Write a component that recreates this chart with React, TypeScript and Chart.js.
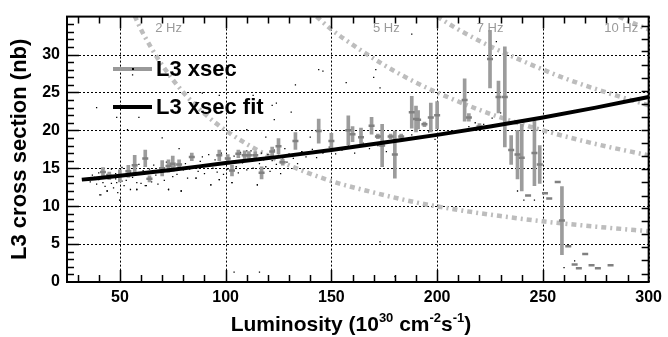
import React, { useEffect, useRef } from "react";
import { Chart, registerables } from "chart.js";
Chart.register(...registerables);

const X_MIN = 25;
const X_MAX = 300;
const Y_MIN = 0;
const Y_MAX = 35;

const xTickValues = [50, 100, 150, 200, 250, 300];
const yTickValues = [0, 5, 10, 15, 20, 25, 30];
const xMinorTicks = [30, 40, 50, 60, 70, 80, 90, 100, 110, 120, 130, 140, 150, 160, 170, 180, 190, 200, 210, 220, 230, 240, 250, 260, 270, 280, 290];
const yMinorTicks = [1, 2, 3, 4, 5, 6, 7, 8, 9, 10, 11, 12, 13, 14, 15, 16, 17, 18, 19, 20, 21, 22, 23, 24, 25, 26, 27, 28, 29, 30, 31, 32, 33, 34];
const rightTicks = [1.1, 2.9, 4.6, 6.3, 8.0, 9.7, 11.4, 13.2, 14.9, 16.6, 18.3, 20.0, 21.8, 23.5, 25.2, 26.9, 28.6, 30.4, 32.1, 33.8];

// L3 xsec fit
const fitL = [32, 50, 75, 100, 125, 150, 175, 200, 225, 250, 275, 300];
const fitS = [13.5, 14.0, 14.8, 15.7, 16.5, 17.4, 18.4, 19.4, 20.5, 21.7, 23.0, 24.4];

// L3 xsec (points with error bars)
const ebL = [42, 45, 50, 54, 57, 62, 64, 70, 73, 75, 78, 84, 97, 101, 103, 106, 109, 111, 114, 117, 122, 125, 127, 133, 144, 150, 158, 160, 164, 169, 172, 174, 178, 180, 183, 188, 190, 191, 194, 197, 200, 213, 215, 220, 225, 229, 232, 235, 238, 240, 243, 246, 248.5, 251, 253, 257, 259, 262, 265, 267, 270, 273, 276, 282];
const ebS = [14.5, 14.0, 14.0, 14.6, 15.4, 16.3, 13.6, 15.0, 15.3, 15.6, 15.5, 16.5, 16.7, 16.3, 14.7, 16.9, 16.7, 16.7, 16.7, 14.4, 17.2, 17.9, 15.8, 18.6, 19.9, 18.6, 20.0, 19.5, 19.1, 20.6, 19.2, 18.0, 19.2, 16.8, 19.2, 22.4, 21.5, 21.4, 20.8, 21.7, 22.0, 24.0, 21.7, 20.5, 29.4, 24.4, 24.4, 17.4, 16.8, 16.4, 11.4, 17.0, 15.5, 11.7, 11.0, 13.2, 8.1, 4.7, 2.3, 1.8, 3.7, 2.2, 1.8, 2.2];
const ebErr = [0.6, 0.5, 0.8, 0.8, 1.3, 1.1, 0.4, 1.0, 0.8, 1.0, 0.6, 0.5, 0.7, 0.5, 0.7, 0.5, 0.6, 0.5, 0.5, 0.8, 0.6, 1.0, 0.4, 1.1, 1.6, 1.0, 1.9, 1.0, 1.2, 1.1, 0.3, 2.8, 0.3, 3.1, 0.3, 2.1, 1.7, 1.2, 0.3, 1.9, 1.8, 2.8, 0.5, 0.4, 3.8, 2.1, 6.6, 1.9, 3.2, 4.4, 0, 4.3, 2.5, 0, 0, 0, 4.5, 0, 0, 0, 0, 0, 0, 0];

// individual measurements (small black dots)
const dots: [number, number][] = [
  [36, 13.2], [37, 14.1], [38, 13.8], [39, 12.9], [40, 14.4], [40, 13.5], [41, 11.5], [42, 14.8], [42, 13.1], [43, 12.6],
  [44, 14.2], [44, 12.0], [45, 13.7], [46, 14.9], [46, 13.0], [47, 12.4], [48, 14.3], [48, 13.6], [49, 11.8], [50, 14.6],
  [50, 10.8], [51, 13.3], [51, 15.1], [52, 12.7], [53, 14.0], [53, 13.4], [54, 15.3], [55, 12.2], [55, 14.4], [56, 13.8],
  [57, 14.9], [58, 12.2], [58, 13.1], [59, 15.5], [60, 14.2], [60, 13.0], [61, 14.7], [62, 12.7], [62, 15.8], [63, 13.6],
  [64, 14.9], [65, 13.2], [66, 15.4], [67, 14.1], [68, 12.9], [69, 15.0], [70, 14.4], [71, 13.4], [72, 15.8], [73, 12.2],
  [74, 14.7], [75, 13.9], [76, 15.3], [77, 14.2], [78, 16.0], [79, 12.0], [80, 14.8], [81, 15.6], [82, 13.7], [83, 14.9],
  [84, 16.2], [85, 15.1], [86, 13.7], [87, 14.6], [88, 15.9], [89, 16.5], [90, 14.3], [91, 15.4], [92, 16.8], [93, 12.8],
  [94, 15.0], [95, 16.1], [96, 14.5], [97, 13.5], [97, 15.7], [98, 17.0], [99, 14.2], [100, 16.3], [101, 14.9], [102, 15.8],
  [103, 13.1], [104, 16.6], [105, 15.2], [106, 14.4], [107, 17.1], [108, 15.7], [109, 16.2], [110, 14.8], [111, 15.9], [112, 17.3],
  [113, 15.0], [114, 16.4], [115, 12.8], [116, 15.6], [117, 17.0], [118, 16.1], [119, 15.2], [120, 16.8], [121, 14.6], [122, 16.0],
  [123, 17.4], [124, 15.5], [125, 16.7], [126, 14.3], [127, 16.2], [128, 17.6], [129, 15.8], [130, 16.9], [132, 16.3], [134, 15.6],
  [136, 17.2], [138, 16.5], [141, 17.5], [143, 16.4], [146, 17.0], [149, 17.8], [152, 16.9], [155, 17.4], [158, 18.1], [161, 17.0],
  [165, 18.3], [168, 17.6], [172, 18.0], [176, 17.2], [180, 18.6], [184, 18.9], [188, 19.4], [192, 19.1], [196, 19.8], [199, 18.8],
  [215, 20.5], [218, 21.0], [222, 20.8], [226, 21.6], [230, 22.3],
  [56, 27.3], [39, 23.0], [48.5, 21.7], [53.6, 20.1], [70, 19.0], [78, 17.6], [97, 24.6], [105, 25.0], [113, 24.6], [122, 23.3],
  [124, 23.6], [133, 26.0], [144, 28.0], [146, 27.8], [86, 23.7], [89, 24.9], [96, 22.3], [59, 21.7], [110, 20.1], [119, 19.1],
  [140, 19.1], [123, 21.4], [131, 22.4], [110, 17.3], [136, 17.2], [170, 27.0], [188, 32.7], [171, 28.0], [157, 26.3], [200, 29.5],
  [228, 31.7], [173, 25.6], [40.5, 11.5], [44, 12.0], [50, 10.8], [58, 12.2], [62.5, 12.7], [73, 12.2], [79, 12.0], [93, 12.8],
  [103, 13.1], [115, 12.8], [48.5, 13.1], [86, 13.7], [97, 13.5], [104, 1.3], [116, 1.3], [180, 0.7], [173, 5.3], [238, 12.0],
  [241, 10.8], [246, 10.8], [260, 1.9], [265, 2.8]
];

// constant-rate curves (sigma x L = const)
const hz2L = [57, 60, 65, 70, 80, 90, 100, 115, 130, 150, 170, 190, 210, 230, 250, 275, 300];
const hz2S = [35.1, 33.3, 30.8, 28.6, 25.0, 22.2, 20.0, 17.4, 15.4, 13.3, 11.8, 10.5, 9.5, 8.7, 8.0, 7.3, 6.7];
const hz5L = [143, 150, 160, 175, 190, 210, 230, 250, 275, 300];
const hz5S = [35.0, 33.3, 31.3, 28.6, 26.3, 23.8, 21.7, 20.0, 18.2, 16.7];
const hz7L = [200, 210, 225, 240, 260, 280, 300];
const hz7S = [35.0, 33.3, 31.1, 29.2, 26.9, 25.0, 23.3];
const hz10L = [286, 293, 300];
const hz10S = [35.0, 34.1, 33.3];

const hzLabels = ["2 Hz", "5 Hz", "7 Hz", "10 Hz"];
const hzLabelL = [73, 176, 225, 287];
const hzLabelS = 33.4;

const legendLabels = ["L3 xsec", "L3 xsec fit"];

const FONT = "'Liberation Sans', Arial, Helvetica, sans-serif";

const decorPlugin = {
  id: "decor",
  beforeDatasetsDraw(chart: any) {
    const { ctx, chartArea } = chart;
    const { left, right, top, bottom } = chartArea;
    const x = chart.scales.x;
    const y = chart.scales.y;
    ctx.save();
    ctx.strokeStyle = "#000";
    ctx.lineWidth = 1;
    ctx.setLineDash([2, 2]);
    ctx.beginPath();
    for (const v of xTickValues) {
      const px = Math.round(x.getPixelForValue(v)) + 0.5;
      ctx.moveTo(px, top);
      ctx.lineTo(px, bottom);
    }
    for (const v of yTickValues) {
      const py = Math.round(y.getPixelForValue(v)) + 0.5;
      ctx.moveTo(left, py);
      ctx.lineTo(right, py);
    }
    ctx.stroke();
    ctx.restore();
  },
  afterDraw(chart: any) {
    const { ctx, chartArea } = chart;
    const { left, right, top, bottom } = chartArea;
    const x = chart.scales.x;
    const y = chart.scales.y;
    ctx.save();
    // frame
    ctx.strokeStyle = "#000";
    ctx.lineWidth = 2;
    ctx.strokeRect(left, top, right - left, bottom - top);
    ctx.lineWidth = 1.5;
    ctx.beginPath();
    for (const v of xMinorTicks) {
      const px = Math.round(x.getPixelForValue(v)) + 0.5;
      const len = v % 50 === 0 ? 12 : 7;
      ctx.moveTo(px, bottom);
      ctx.lineTo(px, bottom - len);
      ctx.moveTo(px, top);
      ctx.lineTo(px, top + len);
    }
    for (const v of yMinorTicks) {
      const py = Math.round(y.getPixelForValue(v)) + 0.5;
      const len = v % 5 === 0 ? 12 : 7;
      ctx.moveTo(left, py);
      ctx.lineTo(left + len, py);
    }
    for (const v of rightTicks) {
      const py = Math.round(y.getPixelForValue(v)) + 0.5;
      ctx.moveTo(right, py);
      ctx.lineTo(right - 7, py);
    }
    ctx.stroke();

    // Hz labels
    ctx.fillStyle = "#9a9a9a";
    ctx.font = `13px ${FONT}`;
    ctx.textAlign = "center";
    ctx.textBaseline = "middle";
    hzLabels.forEach((t, i) => {
      ctx.fillText(t, x.getPixelForValue(hzLabelL[i]), y.getPixelForValue(hzLabelS));
    });

    // legend
    ctx.lineCap = "butt";
    ctx.strokeStyle = "#999";
    ctx.lineWidth = 4;
    ctx.beginPath();
    ctx.moveTo(113, 69);
    ctx.lineTo(152, 69);
    ctx.stroke();
    ctx.fillStyle = "#000";
    ctx.fillRect(132, 68, 2, 2);
    ctx.strokeStyle = "#000";
    ctx.beginPath();
    ctx.moveTo(113, 107);
    ctx.lineTo(152, 107);
    ctx.stroke();
    ctx.font = `bold 22px ${FONT}`;
    ctx.textAlign = "left";
    ctx.textBaseline = "middle";
    ctx.fillText(legendLabels[0], 156, 70);
    ctx.fillText(legendLabels[1], 156, 108);

    // x axis title with superscripts
    const parts: [string, boolean][] = [
      ["Luminosity (10", false],
      ["30", true],
      [" cm", false],
      ["-2", true],
      ["s", false],
      ["-1", true],
      [")", false],
    ];
    const big = `bold 21px ${FONT}`;
    const small = `bold 13px ${FONT}`;
    let total = 0;
    for (const [t, sup] of parts) {
      ctx.font = sup ? small : big;
      total += ctx.measureText(t).width;
    }
    let cx = 351 - total / 2;
    const base = 331;
    ctx.textAlign = "left";
    ctx.textBaseline = "alphabetic";
    for (const [t, sup] of parts) {
      ctx.font = sup ? small : big;
      ctx.fillText(t, cx, sup ? base - 9 : base);
      cx += ctx.measureText(t).width;
    }
    ctx.restore();
  },
};

export default function App() {
  const ref = useRef<HTMLCanvasElement | null>(null);
  useEffect(() => {
    document.body.style.margin = "0";
    const canvas = ref.current;
    if (!canvas) return;
    const hzStyle = {
      type: "line" as const,
      borderColor: "#bdbdbd",
      borderWidth: 4.5,
      borderDash: [5, 4, 2, 4],
      pointRadius: 0,
      fill: false,
      cubicInterpolationMode: "monotone" as const,
      order: 5,
    };
    const chart = new Chart(canvas, {
      type: "scatter",
      data: {
        datasets: [
          { ...hzStyle, label: "2 Hz", data: hz2L.map((l, i) => ({ x: l, y: hz2S[i] })) },
          { ...hzStyle, label: "5 Hz", data: hz5L.map((l, i) => ({ x: l, y: hz5S[i] })) },
          { ...hzStyle, label: "7 Hz", data: hz7L.map((l, i) => ({ x: l, y: hz7S[i] })) },
          { ...hzStyle, label: "10 Hz", data: hz10L.map((l, i) => ({ x: l, y: hz10S[i] })) },
          {
            type: "scatter",
            label: "events",
            data: dots.map(([l, s]) => ({ x: l, y: s })),
            backgroundColor: "#000",
            borderWidth: 0,
            pointRadius: 0.9,
            pointStyle: "rect",
            order: 4,
          },
          {
            type: "bar",
            label: "L3 xsec err",
            data: ebL.map((l, i) => ({ x: l, y: [ebS[i] - ebErr[i], ebS[i] + ebErr[i]] })) as any,
            backgroundColor: "#9c9c9c",
            borderWidth: 0,
            barThickness: 3,
            grouped: false,
            order: 3,
          } as any,
          {
            type: "scatter",
            label: "L3 xsec",
            data: ebL.map((l, i) => ({ x: l, y: ebS[i] })),
            pointStyle: "line",
            pointRadius: 3,
            borderColor: "#808080",
            borderWidth: 2.5,
            order: 2,
          },
          {
            type: "line",
            label: "L3 xsec fit",
            data: fitL.map((l, i) => ({ x: l, y: fitS[i] })),
            borderColor: "#000",
            borderWidth: 4,
            pointRadius: 0,
            fill: false,
            cubicInterpolationMode: "monotone",
            order: 1,
          },
        ],
      },
      options: {
        animation: false,
        responsive: false,
        maintainAspectRatio: false,
        layout: { padding: { left: 0, right: 18, top: 10, bottom: 0 } },
        plugins: { legend: { display: false }, tooltip: { enabled: false } },
        scales: {
          x: {
            type: "linear",
            min: X_MIN,
            max: X_MAX,
            offset: false,
            afterBuildTicks: (s: any) => {
              s.ticks = xTickValues.map((v) => ({ value: v }));
            },
            afterFit: (s: any) => {
              s.height = 55;
            },
            grid: { display: false, drawTicks: false },
            border: { display: false },
            ticks: {
              color: "#000",
              padding: 6,
              maxRotation: 0,
              font: { family: FONT, size: 16, weight: "bold" },
            },
          },
          y: {
            type: "linear",
            min: Y_MIN,
            max: Y_MAX,
            afterBuildTicks: (s: any) => {
              s.ticks = yTickValues.map((v) => ({ value: v }));
            },
            afterFit: (s: any) => {
              s.width = 67;
            },
            grid: { display: false, drawTicks: false },
            border: { display: false },
            ticks: {
              color: "#000",
              padding: 7,
              font: { family: FONT, size: 16, weight: "bold" },
            },
            title: {
              display: true,
              text: "L3 cross section (nb)",
              color: "#000",
              padding: { top: 7, bottom: 0 },
              font: { family: FONT, size: 22, weight: "bold" },
            },
          },
        },
      },
      plugins: [decorPlugin],
    });
    return () => chart.destroy();
  }, []);
  return (
    <div style={{ width: 668, height: 337, position: "relative", background: "#fff" }}>
      <canvas ref={ref} width={668} height={337} style={{ display: "block" }} />
    </div>
  );
}
